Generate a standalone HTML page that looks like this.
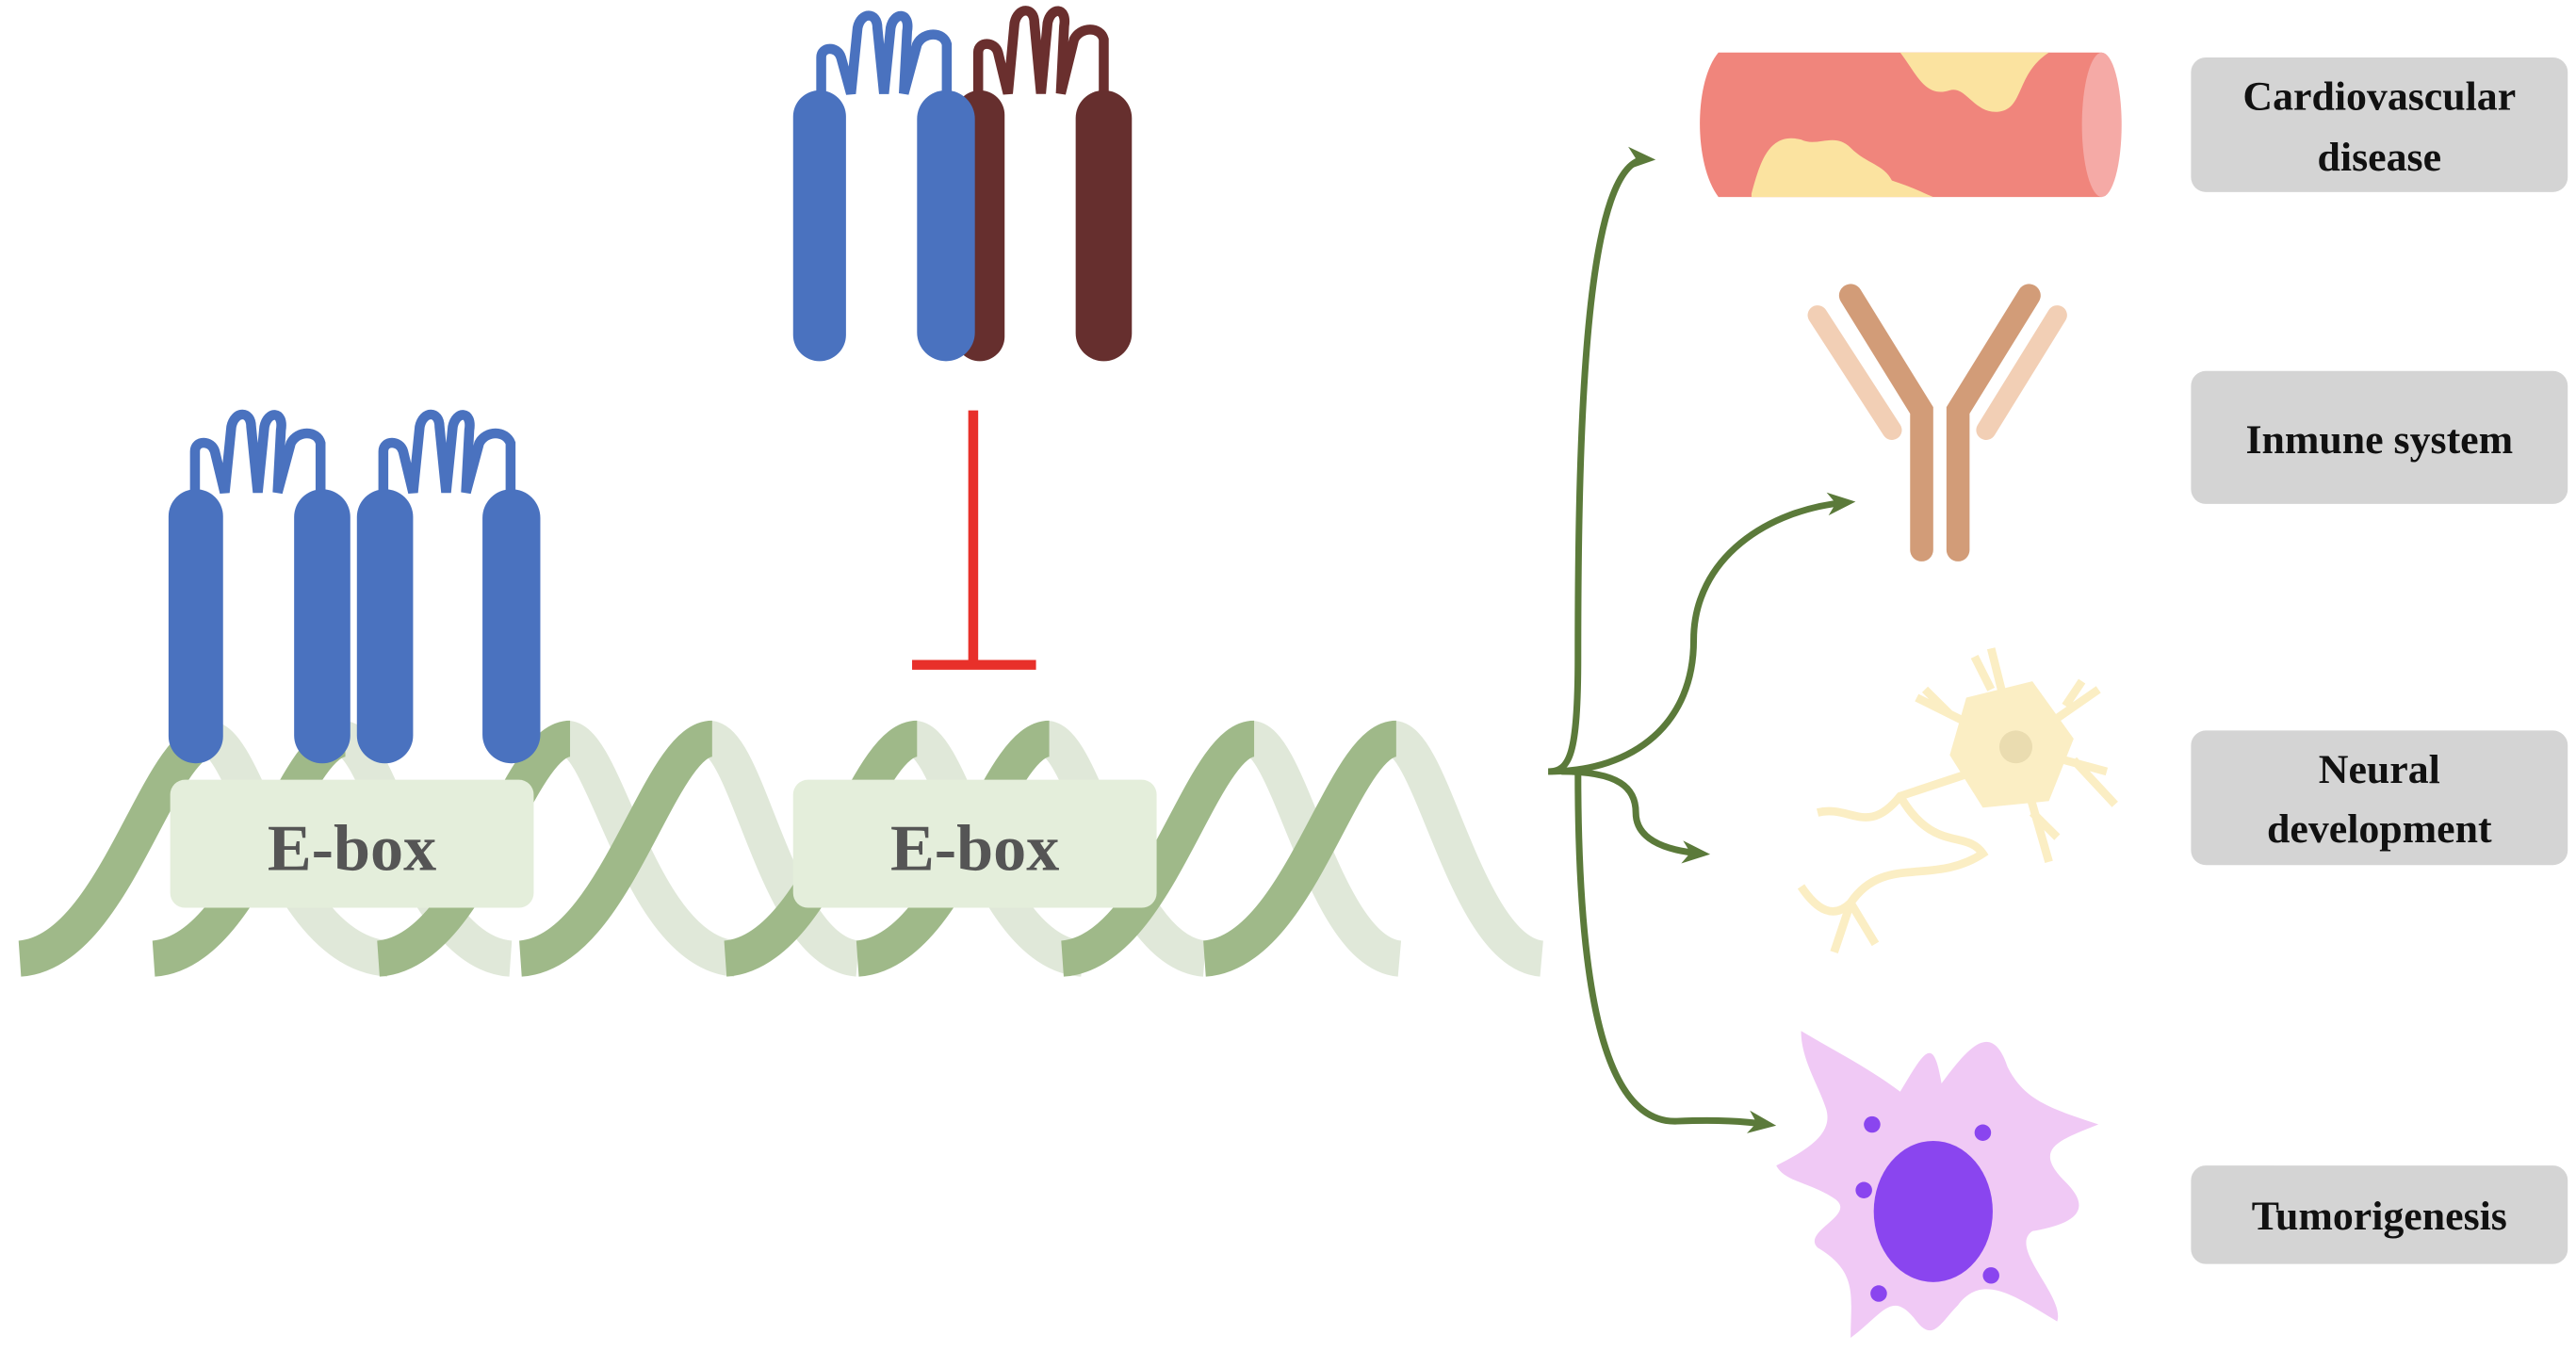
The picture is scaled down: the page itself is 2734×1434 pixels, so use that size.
<!DOCTYPE html>
<html><head><meta charset="utf-8"><style>
html,body{margin:0;padding:0;background:#fff;}
svg{display:block;}
text{font-family:"Liberation Serif",serif;font-weight:bold;}
</style></head><body>
<svg width="2734" height="1434" viewBox="0 0 1559 823" preserveAspectRatio="none" xmlns="http://www.w3.org/2000/svg">
<rect width="1559" height="823" fill="#fff"/>
<defs>
<marker id="ah" markerWidth="18" markerHeight="16" refX="12" refY="8" orient="auto" markerUnits="userSpaceOnUse">
<path d="M0,1 L17,8 L0,15 L5,8 Z" fill="#5b7a3a"/></marker>
</defs>
<g fill="none" stroke-width="22" stroke="#e0e8d9">
<path d="M126,450 C150,450 170,580 235,584"/>
<path d="M207,450 C231,450 251,580 309,584"/>
<path d="M343,450 C367,450 387,580 445,584"/>
<path d="M429,450 C453,450 470,580 519,584"/>
<path d="M553,450 C577,450 597,580 655,584"/>
<path d="M633,450 C657,450 677,580 729,584"/>
<path d="M757,450 C781,450 801,580 847,584"/>
<path d="M843,450 C867,450 887,580 933,584"/>
</g>
<g fill="none" stroke-width="22" stroke="#9fb989">
<path d="M12,584 C70,580 95,450 128,450"/>
<path d="M93,584 C151,580 176,450 209,450"/>
<path d="M229,584 C287,580 312,450 345,450"/>
<path d="M315,584 C373,580 398,450 431,450"/>
<path d="M439,584 C497,580 522,450 555,450"/>
<path d="M519,584 C577,580 602,450 635,450"/>
<path d="M643,584 C701,580 726,450 759,450"/>
<path d="M729,584 C787,580 812,450 845,450"/>
</g>
<rect x="103" y="475" width="220" height="78" rx="9" fill="#e4eedb"/>
<rect x="480" y="475" width="220" height="78" rx="9" fill="#e4eedb"/>
<text x="213" y="530" font-size="40" fill="#555" text-anchor="middle">E-box</text>
<text x="590" y="530" font-size="40" fill="#555" text-anchor="middle">E-box</text>
<g fill="none" stroke="#4a72bf" stroke-width="6">
<path d="M118,300 V275 C118,268 128,268 130,275 L136,300 L140,260 C142,250 152,250 152,260 L156,300 L160,260 C162,250 172,250 170,262 L168,300 L176,270 C180,262 192,262 194,270 V300"/>
<path d="M232,300 V275 C232,268 242,268 244,275 L250,300 L254,260 C256,250 266,250 266,260 L270,300 L274,260 C276,250 286,250 284,262 L282,300 L290,270 C294,262 306,262 309,270 V300"/>
</g>
<g fill="#4a72bf">
<rect x="102" y="298" width="33" height="167" rx="16.5"/>
<rect x="178" y="298" width="34" height="167" rx="17"/>
<rect x="216" y="298" width="34" height="167" rx="17"/>
<rect x="292" y="298" width="35" height="167" rx="17.5"/>
</g>
<g fill="none" stroke-width="6">
<path d="M497,57 V35 C497,28 507,28 509,35 L515,57 L519,17 C521,7 531,7 531,17 L535,57 L539,17 C541,7 551,7 549,19 L547,57 L555,27 C559,19 571,19 573,27 V57" stroke="#4a72bf"/>
<path d="M592,57 V32 C592,25 602,25 604,32 L610,57 L614,14 C616,4 626,4 626,14 L630,57 L634,14 C636,4 646,4 644,16 L642,57 L650,24 C654,16 666,16 668,24 V57" stroke="#6a2f2e"/>
</g>
<rect x="578" y="55" width="30" height="165" rx="15" fill="#662f2e"/>
<rect x="651" y="55" width="34" height="165" rx="17" fill="#662f2e"/>
<rect x="480" y="55" width="32" height="165" rx="16" fill="#4a72bf"/>
<rect x="555" y="55" width="35" height="165" rx="17.5" fill="#4a72bf"/>
<path d="M589,250 V405 M552,405 H627" stroke="#e8302a" stroke-width="6" fill="none"/>
<g fill="none" stroke="#5b7a3a" stroke-width="4" marker-end="url(#ah)">
<path d="M937,470 C950,470 955,460 955,400 C955,250 960,95 997,97"/>
<path d="M937,470 C990,470 1025,440 1025,390 C1025,340 1070,310 1118,306"/>
<path d="M945,470 C980,470 990,480 990,495 C990,510 1005,518 1030,520"/>
<path d="M955,470 C955,600 970,685 1015,683 C1040,682 1055,683 1070,685"/>
</g>
<g fill="#d4d4d4">
<rect x="1326" y="35" width="228" height="82" rx="9"/>
<rect x="1326" y="226" width="228" height="81" rx="9"/>
<rect x="1326" y="445" width="228" height="82" rx="9"/>
<rect x="1326" y="710" width="228" height="60" rx="9"/>
</g>
<g font-size="25" fill="#111" text-anchor="middle">
<text x="1440" y="67">Cardiovascular</text>
<text x="1440" y="104">disease</text>
<text x="1440" y="276">Inmune system</text>
<text x="1440" y="477">Neural</text>
<text x="1440" y="513">development</text>
<text x="1440" y="749">Tumorigenesis</text>
</g>
<path d="M1040,32 H1272 V120 H1040 C1025,100 1025,50 1040,32 Z" fill="#f0857c"/>
<ellipse cx="1272" cy="76" rx="12" ry="44" fill="#f5aaa6"/>
<path d="M1150,32 C1160,45 1165,60 1180,55 C1190,52 1195,70 1210,68 C1225,66 1220,45 1240,32 Z" fill="#fbe3a0"/>
<path d="M1060,118 C1065,100 1070,80 1090,85 C1100,90 1110,80 1120,90 C1130,100 1140,100 1145,110 C1160,115 1165,118 1170,120 H1060 Z" fill="#fbe3a0"/>
<g stroke-linecap="round">
<path d="M1120,180 L1163,250 V335 M1228,180 L1185,250 V335" stroke="#d29c78" stroke-width="14" fill="none"/>
<path d="M1100,192 L1145,262 M1245,192 L1202,262" stroke="#f2cfb5" stroke-width="12" fill="none"/>
</g>
<g fill="none" stroke="#fbeec4" stroke-width="5">
<path d="M1220,455 L1205,395 M1205,420 L1195,400 M1220,455 L1270,420 M1250,430 L1260,415 M1220,455 L1275,470 M1255,463 L1280,490 M1220,455 L1240,525 M1230,495 L1245,510 M1220,455 L1160,425 M1180,435 L1165,420 M1195,470 L1150,485 C1130,510 1120,490 1100,495 M1150,485 C1170,520 1190,505 1200,520 C1170,540 1140,520 1120,550 C1110,560 1100,555 1090,540 M1120,550 L1110,580 M1120,550 L1135,575"/>
</g>
<polygon points="1190,425 1230,415 1255,450 1240,488 1200,492 1180,460" fill="#fbeec4"/>
<ellipse cx="1220" cy="455" rx="10" ry="10" fill="#eadcb0"/>
<path d="M1090,628 C1110,640 1130,650 1150,665 C1165,640 1170,630 1175,660 C1190,640 1205,620 1215,650 C1225,670 1240,675 1270,685 C1245,695 1230,700 1250,720 C1265,735 1260,745 1230,750 C1215,760 1250,790 1245,805 C1220,790 1200,775 1185,795 C1175,805 1170,818 1160,805 C1145,785 1140,800 1120,815 C1120,790 1125,775 1100,760 C1090,750 1125,740 1110,730 C1095,720 1080,720 1075,710 C1095,700 1110,690 1105,675 C1100,660 1090,645 1090,628 Z" fill="#f0c9f5"/>
<ellipse cx="1170" cy="738" rx="36" ry="43" fill="#8a45ef"/>
<g fill="#8a45ef"><circle cx="1133" cy="685" r="5"/><circle cx="1200" cy="690" r="5"/><circle cx="1128" cy="725" r="5"/><circle cx="1205" cy="777" r="5"/><circle cx="1137" cy="788" r="5"/></g>
</svg>
</body></html>
